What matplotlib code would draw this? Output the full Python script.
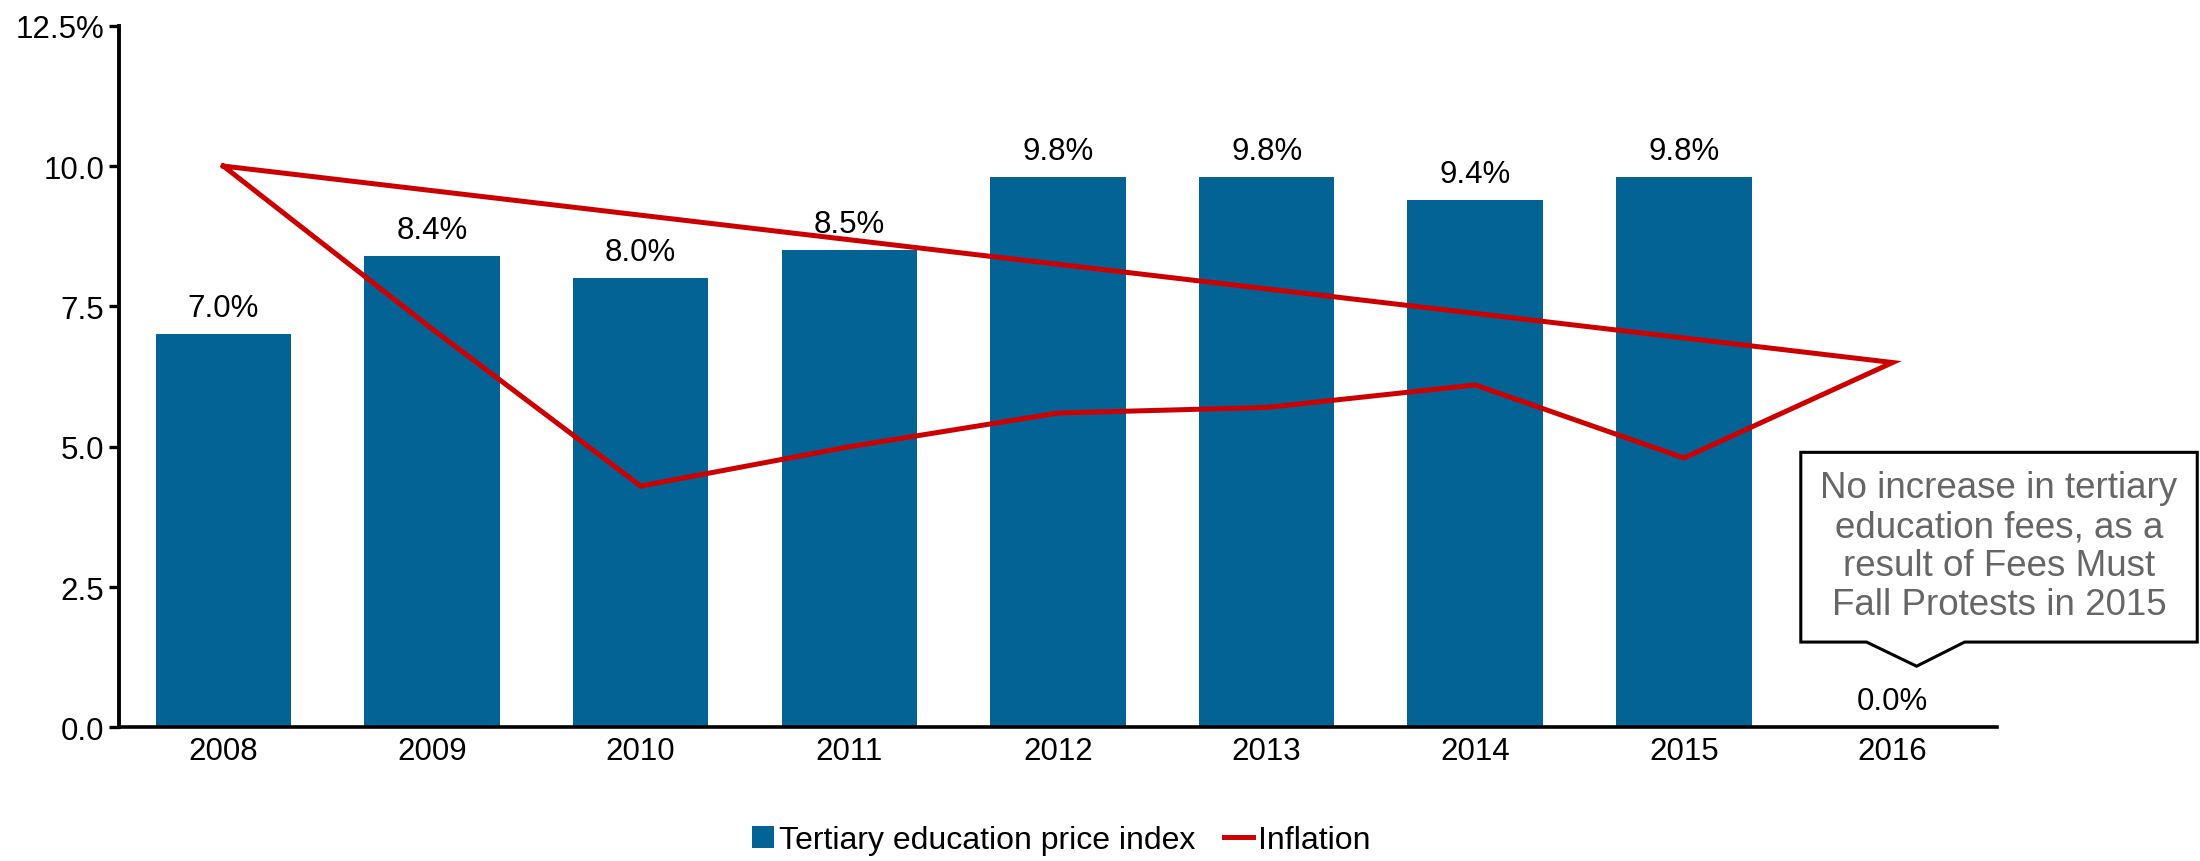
import matplotlib
matplotlib.use("Agg")
import matplotlib.pyplot as plt
from matplotlib.patches import Polygon, Rectangle
from matplotlib.legend_handler import HandlerPatch
from matplotlib.lines import Line2D
import matplotlib.patches as mpatches

plt.rcParams['font.family'] = ['Liberation Sans', 'DejaVu Sans']

# Data
years = ["2008", "2009", "2010", "2011", "2012", "2013", "2014", "2015", "2016"]
tertiary_index = [7.0, 8.4, 8.0, 8.5, 9.8, 9.8, 9.4, 9.8, 0.0]
inflation = [10.0, 7.1, 4.3, 5.0, 5.6, 5.7, 6.1, 4.8, 6.5]
y_ticks = [0.0, 2.5, 5.0, 7.5, 10.0, 12.5]
y_tick_labels = ["0.0", "2.5", "5.0", "7.5", "10.0", "12.5%"]
note_text = ("No increase in tertiary\neducation fees, as a\n"
             "result of Fees Must\nFall Protests in 2015")

BAR_COLOR = "#036395"
LINE_COLOR = "#CC0000"
FS = 22.5

fig = plt.figure(figsize=(22, 8.62), dpi=100)
ax = fig.add_axes([0.0541, 0.155, 0.8536, 0.814])

x = list(range(len(years)))
ax.bar(x, tertiary_index, width=0.65, color=BAR_COLOR, zorder=2,
       label="Tertiary education price index")

# The inflation series closes back onto its first point
line_x = x + [x[0]]
line_y = inflation + [inflation[0]]
ax.plot(line_x, line_y, color=LINE_COLOR, lw=3.6, zorder=3,
        solid_joinstyle="miter", label="Inflation")

for xi, v in zip(x, tertiary_index):
    ax.annotate(f"{v:.1f}%", (xi, v), xytext=(0, 8.0), textcoords="offset points",
                ha="center", va="bottom", fontsize=FS, color="black", zorder=4)

ax.set_xlim(-0.5, len(years) - 0.5)
ax.set_ylim(0, 12.5)
ax.set_xticks(x)
ax.set_xticklabels(years, fontsize=FS)
ax.set_yticks(y_ticks)
ax.set_yticklabels(y_tick_labels, fontsize=FS)
ax.tick_params(axis="x", length=0, pad=6)
ax.tick_params(axis="y", length=7, width=2.4, pad=3.5, direction="out")

for s in ("top", "right"):
    ax.spines[s].set_visible(False)
ax.spines["left"].set_linewidth(2.8)
ax.spines["bottom"].set_linewidth(2.6)

# Callout box for the 2016 note, placed relative to the 2016 category
i16 = years.index("2016")
bx0, bx1 = i16 - 0.44, i16 + 1.46
by0, by1 = 1.52, 4.90
px0, px1, ptip = i16 - 0.125, i16 + 0.345, i16 + 0.115
tip_y = 1.09
callout = Polygon(
    [(bx0, by0), (bx0, by1), (bx1, by1), (bx1, by0), (px1, by0), (ptip, tip_y), (px0, by0)],
    closed=True, facecolor="white", edgecolor="black", lw=2.2, zorder=5, clip_on=False)
ax.add_patch(callout)
ax.text((bx0 + bx1) / 2, (by0 + by1) / 2 + 0.02, note_text, ha="center", va="center",
        fontsize=26.5, color="#666666", linespacing=1.15, zorder=6, clip_on=False)


class SquarePatchHandler(HandlerPatch):
    def create_artists(self, legend, orig_handle, xdescent, ydescent, width, height,
                       fontsize, trans):
        side = height * 0.98
        r = Rectangle((-xdescent + width - side, -ydescent + (height - side) / 2), side, side,
                      facecolor=orig_handle.get_facecolor(), edgecolor="none")
        r.set_transform(trans)
        return [r]


handles = [mpatches.Patch(color=BAR_COLOR, label="Tertiary education price index"),
           Line2D([], [], color=LINE_COLOR, lw=3.6, label="Inflation")]
ax_center = 0.0541 + 0.8536 / 2
fig.legend(handles=handles, loc="center", bbox_to_anchor=(ax_center, 0.024),
           ncol=2, frameon=False, fontsize=23, handlelength=0.9, handletextpad=0.15,
           columnspacing=0.9, handler_map={mpatches.Patch: SquarePatchHandler()})

fig.savefig("out.png", dpi=100)
